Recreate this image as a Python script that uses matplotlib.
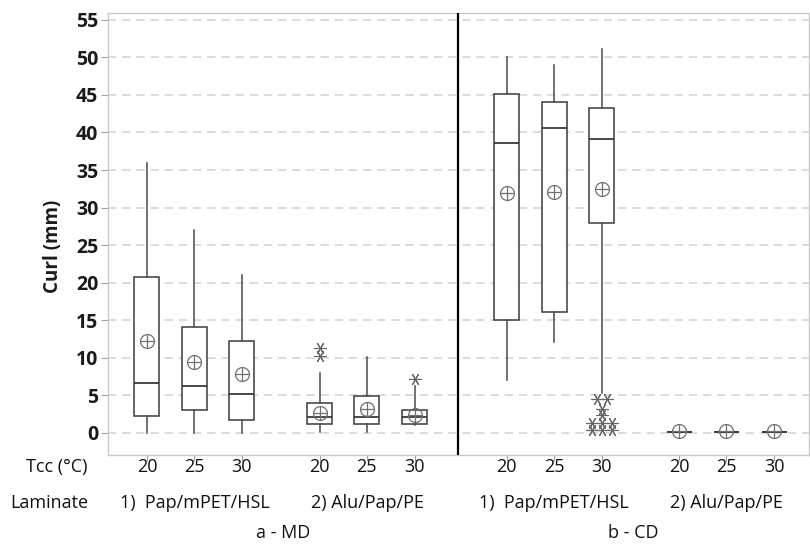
import numpy as np
import matplotlib
matplotlib.use("Agg")
import matplotlib.pyplot as plt
from matplotlib.transforms import blended_transform_factory

plt.rcParams['font.family'] = ['Open Sans', 'DejaVu Sans']

# box order: MD Pap 20/25/30, MD Alu 20/25/30, CD Pap 20/25/30, CD Alu 20/25/30
temps = ['20', '25', '30'] * 4
laminates = ['1)  Pap/mPET/HSL', '2) Alu/Pap/PE']
panels = ['a - MD', 'b - CD']

whislo = [0.0, 0.0, 0.0, 0.1, 0.1, 1.1, 7.1, 12.1, 5.3, 0.1, 0.1, 0.1]
q1 = [2.2, 3.1, 1.7, 1.15, 1.15, 1.15, 15.0, 16.1, 27.9, 0.1, 0.1, 0.1]
med = [6.6, 6.2, 5.15, 2.1, 2.1, 2.1, 38.6, 40.65, 39.1, 0.1, 0.1, 0.1]
q3 = [20.8, 14.1, 12.2, 4.0, 4.9, 3.06, 45.1, 44.0, 43.2, 0.1, 0.1, 0.1]
whishi = [36.0, 27.0, 21.0, 8.0, 10.1, 6.2, 50.0, 49.0, 51.1, 0.1, 0.1, 0.1]
means = [12.3, 9.5, 7.9, 2.6, 3.2, 2.4, 31.9, 32.05, 32.5, 0.2, 0.2, 0.2]
fliers = [[], [], [], [10.3, 11.3], [], [7.2],
          [], [], [4.5, 4.5, 3.2, 2.4, 1.3, 1.3, 1.3, 0.4, 0.4, 0.4],
          [], [], []]

# layout
group_pos = [0, 1, 2, 3.64, 4.63, 5.64]
panel_shift = 7.58
positions = group_pos + [p + panel_shift for p in group_pos]
divider = 6.55

stats = []
for i in range(len(positions)):
    stats.append(dict(whislo=whislo[i], q1=q1[i], med=med[i], q3=q3[i],
                      whishi=whishi[i], fliers=[], mean=means[i]))

fig = plt.figure(figsize=(8.1, 5.48), dpi=100)
ax = fig.add_axes([108 / 810, 1 - 455 / 548, 701 / 810, 442 / 548])

ax.yaxis.grid(True, ls=(0, (5, 3.5)), color='#d6d6d6', lw=1.2, zorder=0)
ax.set_axisbelow(True)

ax.bxp(stats, positions=positions, widths=0.53, showcaps=False,
       showmeans=False, showfliers=False, patch_artist=True,
       boxprops=dict(facecolor='white', edgecolor='#3a3a3a', lw=1.1),
       medianprops=dict(color='#3a3a3a', lw=1.3),
       whiskerprops=dict(color='#4a4a4a', lw=1.1))

# mean symbols (circle with cross)
ax.plot(positions, means, 'o', ms=10, mfc='none', mec='#707070', mew=0.9, zorder=5)
ax.plot(positions, means, '+', ms=10, mec='#707070', mew=0.9, zorder=5)

# outliers, duplicates placed side by side
for p, vals in zip(positions, fliers):
    for v in sorted(set(vals)):
        n = vals.count(v)
        xs = p + (np.arange(n) - (n - 1) / 2) * 0.21
        ax.plot(xs, [v] * n, ls='none', marker=(6, 2, 90), ms=9,
                mec='#666666', mew=0.8, zorder=5)

ax.axvline(divider, color='black', lw=1.6, zorder=6)

ax.set_xlim(-0.82, 13.95)
ax.set_ylim(-2.93, 55.9)
ax.set_yticks(np.arange(0, 56, 5))
ax.set_xticks(positions)
ax.set_xticklabels([])
ax.tick_params(axis='y', length=5, color='#a0a0a0', labelsize=14,
               labelcolor='#1a1a1a', pad=2)
ax.tick_params(axis='x', length=4, color='#a0a0a0')
for lab in ax.get_yticklabels():
    lab.set_fontweight('bold')
for s in ax.spines.values():
    s.set_color('#c8c8c8')
    s.set_linewidth(1.0)

txt = dict(fontsize=13, color='#111111', fontweight='medium')
tr = blended_transform_factory(ax.transData, ax.transAxes)
for p, t in zip(positions, temps):
    ax.text(p, -0.027, t, transform=tr, ha='center', va='center', **txt)
for k in range(4):
    center = np.mean(positions[3 * k:3 * k + 3])
    ax.text(center, -0.109, laminates[k % 2], transform=tr, ha='center',
            va='center', **txt)
for k, name in enumerate(panels):
    lo = -0.82 if k == 0 else divider
    hi = divider if k == 0 else 13.95
    ax.text((lo + hi) / 2, -0.176, name, transform=tr, ha='center',
            va='center', **txt)

fig.text(87 / 810, 1 - 467 / 548, 'Tcc (°C)', ha='right', va='center', **txt)
fig.text(88 / 810, 1 - 503 / 548, 'Laminate', ha='right', va='center', **txt)
fig.text(53 / 810, 1 - 246 / 548, 'Curl (mm)', rotation=90, ha='center',
         va='center', fontsize=13.5, fontweight='bold', color='#1a1a1a')

fig.savefig('out.png', dpi=100)
